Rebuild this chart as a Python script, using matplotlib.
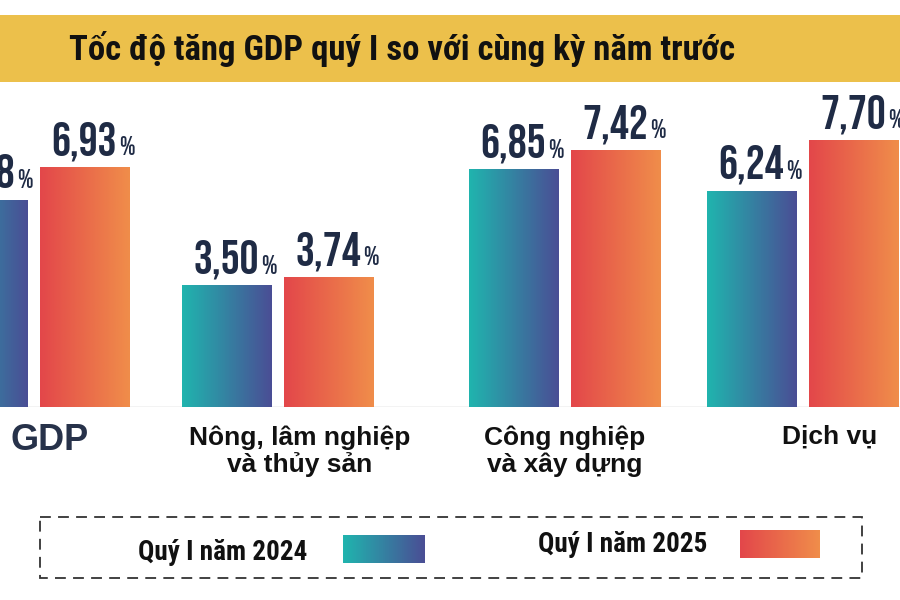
import matplotlib
matplotlib.use('Agg')
import matplotlib.pyplot as plt
import numpy as np
from matplotlib.colors import LinearSegmentedColormap
from matplotlib.patches import Rectangle

title = 'Tốc độ tăng GDP quý I so với cùng kỳ năm trước'
categories = ['GDP', 'Nông, lâm nghiệp\nvà thủy sản', 'Công nghiệp\nvà xây dựng', 'Dịch vụ']
q1_2024 = [5.98, 3.50, 6.85, 6.24]
q1_2025 = [6.93, 3.74, 7.42, 7.70]
series_names = ['Quý I năm 2024', 'Quý I năm 2025']

# layout in pixels (the picture is cut on the left side)
group_x = [34, 278, 565, 803]
label_x = [50, 300, 565, 830]
bar_w = 90
offset = 51

cond = ['Roboto Condensed', 'DejaVu Sans']
digits = ['Bebas Neue', 'Roboto Condensed', 'DejaVu Sans']
navy = '#1f2b45'
cmap24 = LinearSegmentedColormap.from_list('q24', ['#20b4ae', '#4a4e95'])
cmap25 = LinearSegmentedColormap.from_list('q25', ['#e3474a', '#f08d4a'])
grad = np.linspace(0, 1, 64).reshape(1, -1)

fig = plt.figure(figsize=(9, 6), dpi=100)
fig.patch.set_facecolor('white')

# background axes in pixel units: title band, labels, legend
bg = fig.add_axes([0, 0, 1, 1])
bg.axis('off')

bg.add_patch(Rectangle((0, 15), 900, 67, color='#ecc04b', lw=0))
bg.text(69, 49, title, fontsize=25, fontweight='bold', family=cond,
        va='center', ha='left', color='#111111')

# bars
ax = fig.add_axes([0, 193 / 600, 1, 317 / 600])
ax.axis('off')
for xc, v24, v25 in zip(group_x, q1_2024, q1_2025):
    for x, v, cm in [(xc - offset, v24, cmap24), (xc + offset, v25, cmap25)]:
        ax.imshow(grad, cmap=cm, extent=(x - bar_w / 2, x + bar_w / 2, 0, v),
                  aspect='auto', interpolation='bicubic', zorder=2)
        num = f'{v:.2f}'.replace('.', ',')
        ax.text(x + 32, v + 0.35, num, fontsize=34, family=digits,
                color=navy, ha='right', va='baseline')
        ax.text(x + 34, v + 0.35, '%', fontsize=19, family=digits,
                color=navy, ha='left', va='baseline')
ax.axhline(0, color='#c4c4c4', lw=1, zorder=1)
ax.set_xlim(0, 900)
ax.set_ylim(0, 317 / 34.6)

# category labels
for i, (lx, cat) in enumerate(zip(label_x, categories)):
    if i == 0:
        bg.text(lx, 441, cat, fontsize=26, fontweight='bold', family='Liberation Sans',
                color='#27324a', ha='center', va='center')
    else:
        bg.text(lx, 425, cat, fontsize=19, fontweight='bold', family='Liberation Sans',
                color='#111111', ha='center', va='top', linespacing=1.15)

# legend
bg.add_patch(Rectangle((40, 517), 822, 61, fill=False, ec='#333333', lw=1.3,
                       ls=(0, (6, 4))))
bg.text(138, 552, series_names[0], fontsize=19.5, fontweight='bold', family=cond,
        ha='left', va='center', color='#111111')
bg.imshow(grad, cmap=cmap24, extent=(343, 425, 563, 535), aspect='auto', zorder=2)
bg.text(538, 545, series_names[1], fontsize=19.5, fontweight='bold', family=cond,
        ha='left', va='center', color='#111111')
bg.imshow(grad, cmap=cmap25, extent=(740, 820, 558, 530), aspect='auto', zorder=2)
bg.set_xlim(0, 900)
bg.set_ylim(600, 0)

fig.savefig('out.png', dpi=100)
